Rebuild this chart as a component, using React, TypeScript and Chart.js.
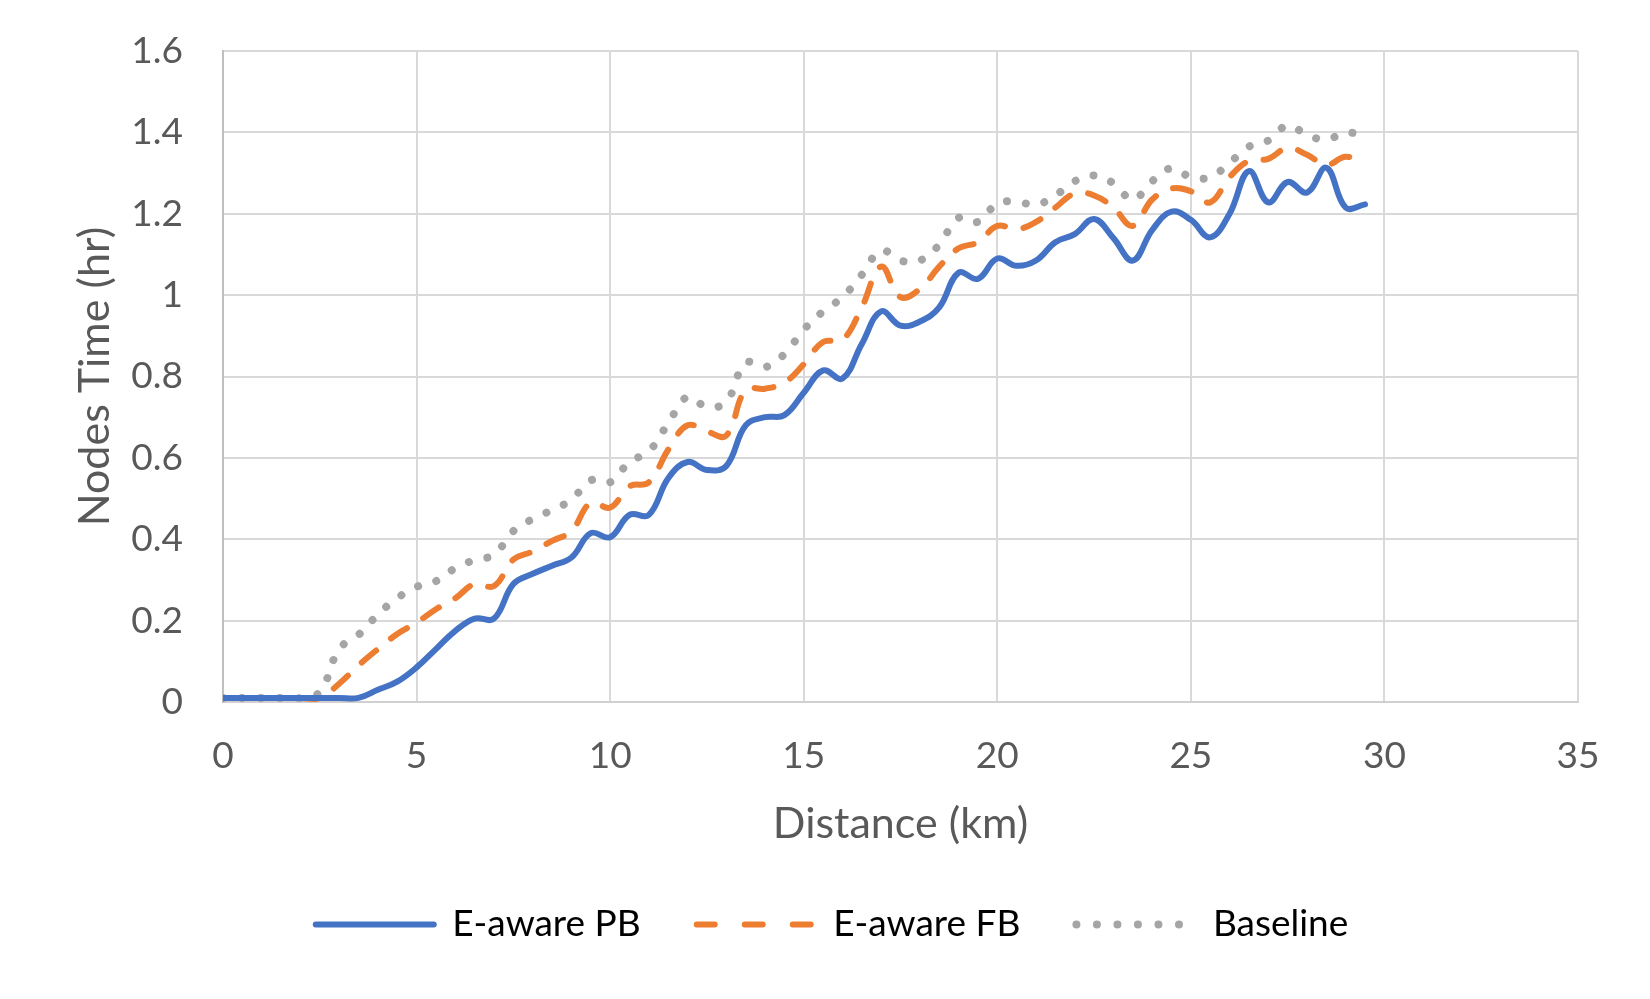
import { useRef, useEffect } from "react"
import React from "react"
import Chart from "chart.js/auto"

// distance along the route (km)
const distanceKm = [
    0, 0.5, 1, 1.5, 2, 2.5, 3, 3.5, 4, 4.5,
    5, 5.5, 6, 6.5, 7, 7.5, 8, 8.5, 9, 9.5,
    10, 10.5, 11, 11.5, 12, 12.5, 13, 13.5, 14, 14.5,
    15, 15.5, 16, 16.5, 17, 17.5, 18, 18.5, 19, 19.5,
    20, 20.5, 21, 21.5, 22, 22.5, 23, 23.5, 24, 24.5,
    25, 25.5, 26, 26.5, 27, 27.5, 28, 28.5, 29, 29.5,
]

// nodes time (hr)
const eAwarePB = [
    0.01, 0.01, 0.01, 0.01, 0.01, 0.01, 0.01, 0.01, 0.03, 0.05,
    0.085, 0.13, 0.175, 0.205, 0.205, 0.29, 0.315, 0.335, 0.355, 0.415,
    0.405, 0.46, 0.46, 0.55, 0.59, 0.57, 0.58, 0.68, 0.7, 0.705,
    0.76, 0.815, 0.795, 0.88, 0.96, 0.925, 0.935, 0.97, 1.055, 1.04,
    1.09, 1.072, 1.085, 1.13, 1.15, 1.187, 1.14, 1.085, 1.16, 1.205,
    1.185, 1.142, 1.2, 1.305, 1.228, 1.278, 1.252, 1.313, 1.215, 1.223,
]

const eAwareFB = [
    0.01, 0.01, 0.01, 0.01, 0.01, 0.01, 0.045, 0.09, 0.13, 0.167,
    0.195, 0.228, 0.255, 0.29, 0.285, 0.35, 0.37, 0.396, 0.42, 0.49,
    0.478, 0.53, 0.54, 0.62, 0.68, 0.665, 0.655, 0.767, 0.77, 0.785,
    0.83, 0.885, 0.89, 0.97, 1.07, 0.995, 1.015, 1.07, 1.115, 1.13,
    1.17, 1.162, 1.18, 1.215, 1.25, 1.245, 1.215, 1.17, 1.235, 1.262,
    1.255, 1.228, 1.29, 1.33, 1.335, 1.362, 1.345, 1.32, 1.34, 1.322,
]

const baseline = [
    0.01, 0.01, 0.01, 0.01, 0.01, 0.025, 0.13, 0.165, 0.215, 0.255,
    0.283, 0.297, 0.329, 0.349, 0.362, 0.42, 0.45, 0.472, 0.497, 0.545,
    0.54, 0.59, 0.616, 0.685, 0.75, 0.725, 0.738, 0.834, 0.823, 0.855,
    0.915, 0.96, 0.995, 1.05, 1.11, 1.085, 1.085, 1.124, 1.19, 1.18,
    1.225, 1.23, 1.222, 1.245, 1.28, 1.294, 1.275, 1.235, 1.28, 1.312,
    1.29, 1.29, 1.325, 1.365, 1.38, 1.417, 1.394, 1.382, 1.4, 1.39,
]

const textColor = "#595959"
const fontFamily = "Lato, 'Open Sans', sans-serif"

// legend markers use a shorter pattern than the plotted lines, like Excel does
const legendStyles = [
    { lineWidth: 6, lineDash: [] as number[] },
    { lineWidth: 6, lineDash: [18, 30] },
    { lineWidth: 8, lineDash: [0.01, 20.5] },
]

const toPoints = (values: number[]) => values.map((y, i) => ({ x: distanceKm[i], y }))

const NodesTimeChart: React.FC = () => {
    const chartRef = useRef<HTMLCanvasElement>(null)
    const chartValueRef = useRef<Chart>()

    useEffect(() => {
        document.body.style.margin = "0"
        if (chartRef.current) {
            if (chartValueRef.current) {
                chartValueRef.current.destroy()
            }
            const ctx = chartRef.current.getContext("2d")

            if (ctx) {
                chartValueRef.current = new Chart(ctx, {
                    type: "line",
                    data: {
                        datasets: [
                            {
                                label: "E-aware PB",
                                data: toPoints(eAwarePB),
                                borderColor: "#4472C4",
                                backgroundColor: "#4472C4",
                                borderWidth: 6,
                                borderCapStyle: "round",
                                tension: 0.4,
                                pointRadius: 0,
                            },
                            {
                                label: "E-aware FB",
                                data: toPoints(eAwareFB),
                                borderColor: "#ED7D31",
                                backgroundColor: "#ED7D31",
                                borderWidth: 6,
                                borderDash: [19, 19],
                                borderCapStyle: "round",
                                tension: 0.4,
                                pointRadius: 0,
                            },
                            {
                                label: "Baseline",
                                data: toPoints(baseline),
                                borderColor: "#A5A5A5",
                                backgroundColor: "#A5A5A5",
                                borderWidth: 8,
                                borderDash: [0.01, 19],
                                borderCapStyle: "round",
                                tension: 0.4,
                                pointRadius: 0,
                            },
                        ],
                    },
                    options: {
                        animation: false,
                        responsive: false,
                        devicePixelRatio: 1,
                        layout: {
                            padding: { left: 86, right: 72, top: 51, bottom: 46 },
                        },
                        scales: {
                            x: {
                                type: "linear",
                                min: 0,
                                max: 35,
                                ticks: {
                                    stepSize: 5,
                                    padding: 32,
                                    color: textColor,
                                    font: { family: fontFamily, size: 37 },
                                },
                                grid: { color: "#d9d9d9", lineWidth: 2, drawTicks: false },
                                border: { color: "#d0d0d0", width: 2 },
                                title: {
                                    display: true,
                                    text: "Distance (km)",
                                    color: textColor,
                                    font: { family: fontFamily, size: 43 },
                                    padding: 0,
                                },
                                afterFit: (scale) => {
                                    scale.height = 148
                                },
                            },
                            y: {
                                min: 0,
                                max: 1.6,
                                ticks: {
                                    stepSize: 0.2,
                                    padding: 40,
                                    color: textColor,
                                    font: { family: fontFamily, size: 37 },
                                    callback: (v) => String(Number(Number(v).toFixed(1))),
                                },
                                grid: { color: "#d9d9d9", lineWidth: 2, drawTicks: false },
                                border: { color: "#bfbfbf", width: 2 },
                                title: {
                                    display: true,
                                    text: "Nodes Time (hr)",
                                    color: textColor,
                                    font: { family: fontFamily, size: 43 },
                                    padding: { top: -17, bottom: 0 },
                                },
                                afterFit: (scale) => {
                                    scale.width = 137
                                    // keep the tick padding from pushing the plot area down
                                    scale.paddingTop = 20
                                    scale.paddingBottom = 20
                                },
                            },
                        },
                        plugins: {
                            legend: {
                                position: "bottom",
                                labels: {
                                    usePointStyle: true,
                                    pointStyle: "line",
                                    pointStyleWidth: 118,
                                    boxHeight: 30,
                                    padding: 56,
                                    color: textColor,
                                    font: { family: fontFamily, size: 37 },
                                    generateLabels: (chart) =>
                                        chart.data.datasets.map((ds, i) => ({
                                            text: ds.label as string,
                                            fillStyle: ds.borderColor as string,
                                            strokeStyle: ds.borderColor as string,
                                            lineWidth: legendStyles[i].lineWidth,
                                            lineDash: legendStyles[i].lineDash,
                                            lineCap: "round",
                                            pointStyle: "line",
                                            hidden: !chart.isDatasetVisible(i),
                                            datasetIndex: i,
                                        })),
                                },
                            },
                            tooltip: { enabled: false },
                        },
                    },
                })
            }
        }

        return () => {
            if (chartValueRef.current) {
                chartValueRef.current.destroy()
            }
        }
    }, [])

    return (
        <div style={{ width: 1650, height: 999, background: "#fff" }}>
            <canvas ref={chartRef} width={1650} height={999} style={{ display: "block" }} />
        </div>
    )
}

export default function App() {
    return <NodesTimeChart />
}
